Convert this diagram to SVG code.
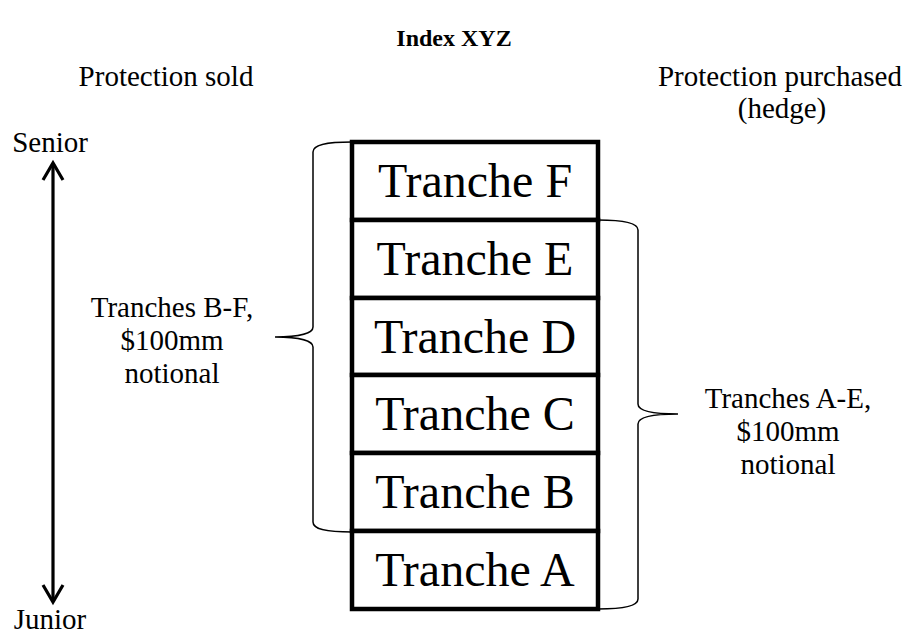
<svg xmlns="http://www.w3.org/2000/svg" width="908" height="637" viewBox="0 0 908 637">
<style>
text{font-family:"Liberation Serif","Times New Roman",serif;fill:#000}
.lab{font-size:29px;text-anchor:middle}
.tr{font-size:48px;text-anchor:middle}
.box{fill:#fff;stroke:#000;stroke-width:4.5}
.brace{fill:none;stroke:#000;stroke-width:1.5}
.arr{fill:none;stroke:#000;stroke-width:3.2}
</style>
<rect width="908" height="637" fill="#fff"/>
<text x="454" y="46" style="font-size:24px;font-weight:bold" text-anchor="middle">Index XYZ</text>
<text x="166" y="86" class="lab">Protection sold</text>
<text x="780" y="86" class="lab">Protection purchased</text>
<text x="782" y="118" class="lab">(hedge)</text>
<text x="50" y="152" class="lab">Senior</text>
<text x="50" y="629" class="lab">Junior</text>
<g id="connectors">
<line class="arr" x1="53" y1="164" x2="53" y2="601"/>
<path class="arr" d="M43,180 L53,163 L63,180"/>
<path class="arr" d="M43,585 L53,602 L63,585"/>
<path class="brace" d="M352,142 C325,142 313,145 313,152 L313,327 C313,333 300,337 275,337 C300,337 313,341 313,347 L313,522 C313,529 325,532 352,532"/>
<path class="brace" d="M598,220 C625,220 638,223 638,230 L638,404 C638,410 650,414 678,414 C650,414 638,418 638,424 L638,599 C638,606 625,609 598,609"/>
</g>
<g id="tranche-F"><rect class="box" x="352" y="142" width="246" height="78"/><text class="tr" x="475" y="197">Tranche F</text></g>
<g id="tranche-E"><rect class="box" x="352" y="220" width="246" height="78"/><text class="tr" x="475" y="275">Tranche E</text></g>
<g id="tranche-D"><rect class="box" x="352" y="298" width="246" height="77"/><text class="tr" x="475" y="353">Tranche D</text></g>
<g id="tranche-C"><rect class="box" x="352" y="375" width="246" height="78"/><text class="tr" x="475" y="430">Tranche C</text></g>
<g id="tranche-B"><rect class="box" x="352" y="453" width="246" height="78"/><text class="tr" x="475" y="508">Tranche B</text></g>
<g id="tranche-A"><rect class="box" x="352" y="531" width="246" height="78"/><text class="tr" x="475" y="586">Tranche A</text></g>
<g id="label-BF"><text class="lab" x="172" y="317">Tranches B-F,</text><text class="lab" x="172" y="350">$100mm</text><text class="lab" x="172" y="383">notional</text></g>
<g id="label-AE"><text class="lab" x="788" y="408">Tranches A-E,</text><text class="lab" x="788" y="441">$100mm</text><text class="lab" x="788" y="474">notional</text></g>
</svg>
